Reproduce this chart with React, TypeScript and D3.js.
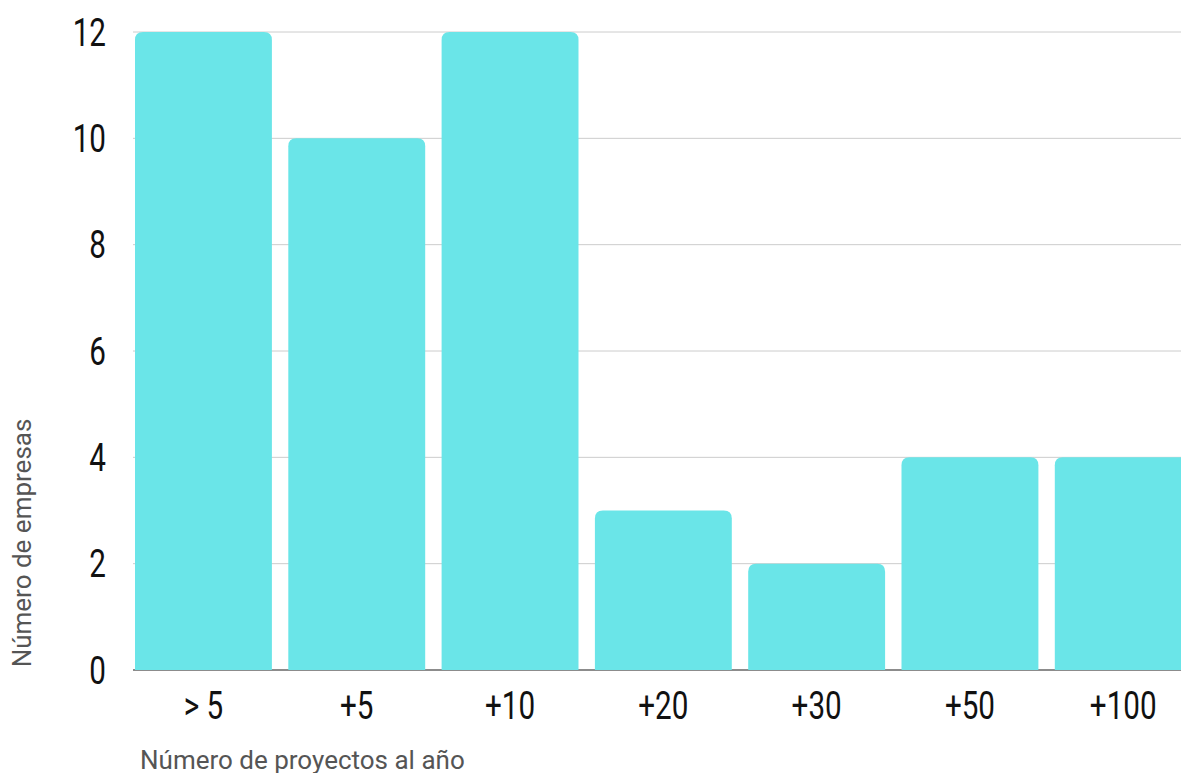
import React from "react";
import * as d3 from "d3";

const categories = ["> 5", "+5", "+10", "+20", "+30", "+50", "+100"];
const values = [12, 10, 12, 3, 2, 4, 4];
const yTicks = [0, 2, 4, 6, 8, 10, 12];
const xTitle = "Número de proyectos al año";
const yTitle = "Número de empresas";

const W = 1181;
const H = 773;
const left = 135;
const bottom = 670;
const top = 32;
const SX = 0.78;

function roundedTop(x: number, y: number, w: number, h: number, r: number) {
  const rr = Math.min(r, w / 2, h);
  return `M${x},${y + h}V${y + rr}Q${x},${y} ${x + rr},${y}H${x + w - rr}Q${x + w},${y} ${x + w},${y + rr}V${y + h}Z`;
}

export default function App() {
  const x = d3
    .scaleBand<string>()
    .domain(categories)
    .range([left, left + 1056.7])
    .paddingInner(0.107)
    .paddingOuter(0);
  const y = d3.scaleLinear().domain([0, 12]).range([bottom, top]);
  const tickFont = "Roboto, sans-serif";
  return (
    <svg
      width={W}
      height={H}
      style={{ position: "absolute", left: 0, top: 0, background: "#fff" }}
    >
      {yTicks.map((t) => (
        <line
          key={"g" + t}
          x1={left - 2}
          x2={W}
          y1={y(t)}
          y2={y(t)}
          stroke={t === 0 ? "#666" : "#cccccc"}
          strokeWidth={t === 0 ? 1.5 : 1}
        />
      ))}
      {categories.map((c, i) => (
        <path
          key={c}
          d={roundedTop(x(c)!, y(values[i]), x.bandwidth(), bottom - y(values[i]), 8)}
          fill="#6ae5e8"
        />
      ))}
      {yTicks.map((t) => (
        <text
          key={"t" + t}
          transform={`translate(106,${y(t)}) scale(${SX},1)`}
          dy="0.36em"
          textAnchor="end"
          fontFamily={tickFont}
          fontSize={38}
          fill="#111"
        >
          {t}
        </text>
      ))}
      {categories.map((c) => (
        <text
          key={"l" + c}
          transform={`translate(${x(c)! + x.bandwidth() / 2},705) scale(${SX},1)`}
          dy="0.36em"
          textAnchor="middle"
          fontFamily={tickFont}
          fontSize={38}
          fill="#111"
        >
          {c}
        </text>
      ))}
      <text
        x={140}
        y={769}
        fontFamily="Roboto, sans-serif"
        fontSize={26}
        fill="#555"
      >
        {xTitle}
      </text>
      <text
        transform={`translate(31,543) rotate(-90)`}
        textAnchor="middle"
        fontFamily="Roboto, sans-serif"
        fontSize={26}
        fill="#555"
      >
        {yTitle}
      </text>
    </svg>
  );
}
